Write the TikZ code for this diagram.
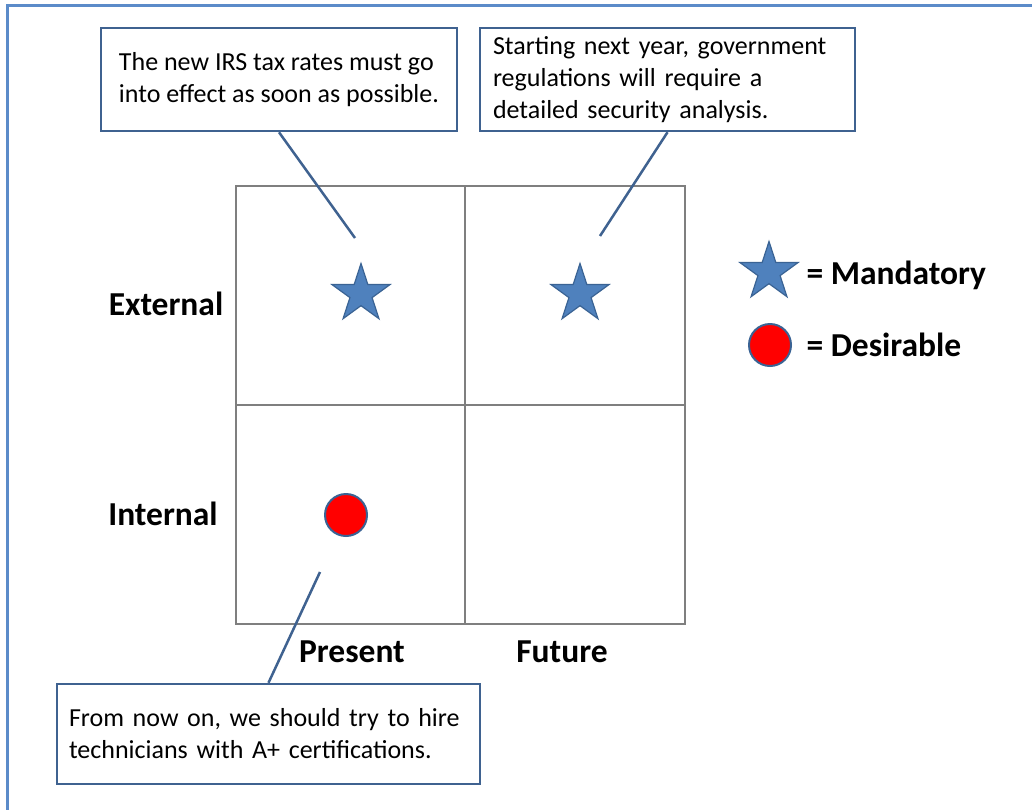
\documentclass[tikz,border=0pt]{standalone}
\usepackage{fontspec}
\setmainfont{Carlito}
\usetikzlibrary{shapes.geometric}
\definecolor{frameblue}{HTML}{5B8BC9}
\definecolor{boxblue}{HTML}{3F6290}
\definecolor{starblue}{HTML}{4F81BD}
\definecolor{starline}{HTML}{3A6394}
\definecolor{gridgray}{HTML}{7F7F7F}
\tikzset{
  note/.style={draw=boxblue, line width=2.5pt, fill=white, inner xsep=13pt, align=left, font=\fontsize{26}{32}\selectfont},
  axislabel/.style={font=\fontsize{33.5}{38}\selectfont\bfseries},
  mandatory/.style={star, star points=5, star point ratio=2.618, minimum size=61pt, inner sep=0pt, fill=starblue, draw=starline, line width=1.2pt},
  desirable/.style={circle, minimum size=42pt, inner sep=0pt, fill=red, draw=starline, line width=2pt},
  callout/.style={draw=boxblue, line width=2.5pt}
}
\begin{document}
\begin{tikzpicture}[x=1pt, y=-1pt]
\useasboundingbox (0,0) rectangle (1032,809);
\fill[white] (0,0) rectangle (1032,809);
\draw[frameblue, line width=3pt] (7,812) -- (7,5) -- (1035,5);

% the four quadrants
\draw[gridgray, line width=2.5pt] (236,186) rectangle (685,624);
\draw[gridgray, line width=2.5pt] (465,186) -- (465,624); \draw[gridgray, line width=2.5pt] (236,405) -- (685,405);

% row and column labels
\node[axislabel] (ext) at (166,304) {External}; \node[axislabel] (int) at (163,514) {Internal};
\node[axislabel] (pres) at (352,652) {Present}; \node[axislabel] (fut) at (562,652) {Future};

% marks in the quadrants
\node[mandatory] (irsstar) at (361,294) {}; \node[mandatory] (regstar) at (580,294) {};
\node[desirable] (hiredot) at (346,515) {};

% the notes
\node[note, minimum width=356pt, minimum height=103pt] (irs) at (279,79.5) {The new IRS tax rates must go\\into effect as soon as possible.};
\node[note, minimum width=375pt, minimum height=103pt, text width=349pt] (regs) at (667.5,79.5) {Starting next year, government\\regulations will require a\\detailed security analysis.};
\node[note, minimum width=423pt, minimum height=100pt, text width=399pt, inner xsep=12pt] (hire) at (268.5,734) {From now on, we should try to hire\\technicians with A+ certifications.};
\coordinate (irsend) at (355,238); \coordinate (regsend) at (600,236); \coordinate (hireend) at (320,572);
\draw[callout] (irs.south) -- (irsend); \draw[callout] (regs.south) -- (regsend); \draw[callout] (hire.north) -- (hireend);

% legend
\node[mandatory] (keystar) at (769,272) {}; \node[axislabel, anchor=west] (keymand) at (803,275) {= Mandatory};
\node[desirable] (keydot) at (770,345) {}; \node[axislabel, anchor=west] (keydes) at (803,345) {= Desirable};
\end{tikzpicture}
\end{document}
